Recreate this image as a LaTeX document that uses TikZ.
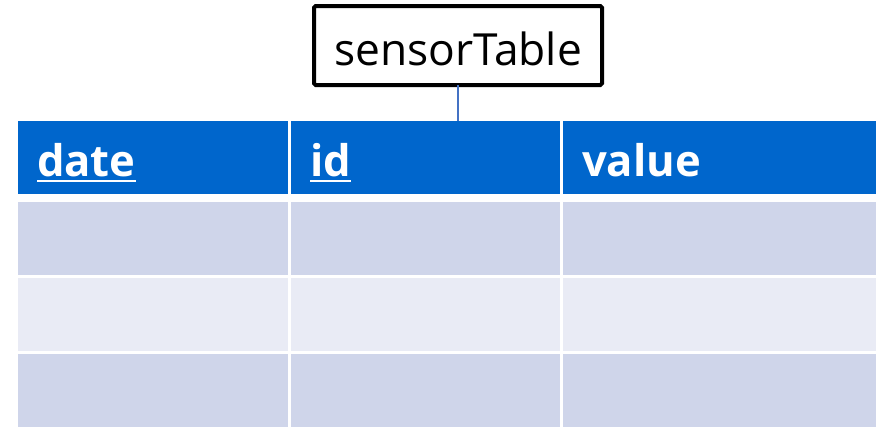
\documentclass[tikz,border=0pt]{standalone}
\usepackage{fontspec}
\setmainfont{Open Sans}
\usetikzlibrary{positioning}

\definecolor{headblue}{HTML}{0066CC}
\definecolor{rowdark}{HTML}{CFD5EA}
\definecolor{rowlight}{HTML}{E9EBF5}
\definecolor{linkblue}{HTML}{4472C4}

% key columns are underlined
\newcommand{\keyname}[1]{\setbox0\hbox{#1}\rlap{\rule[-0.15cm]{\wd0}{0.05cm}}\box0}

\begin{document}
\begin{tikzpicture}[node distance=0.075cm,
  every node/.style={outer sep=0pt, inner ysep=0pt, inner xsep=0.475cm},
  titlebox/.style={draw=black, line width=0.1cm, rounded corners=0.04cm, fill=white,
    minimum width=7.2cm, minimum height=1.975cm, inner xsep=0.1cm,
    font=\fontsize{31.5}{38}\selectfont, text height=1.05cm, text depth=0.075cm},
  head/.style={fill=headblue, text=white, font=\fontsize{31}{37}\selectfont\bfseries,
    minimum height=1.825cm, text height=1cm, text depth=0.075cm, align=left},
  dark/.style={fill=rowdark, minimum height=1.825cm},
  light/.style={fill=rowlight, minimum height=1.825cm},
  colA/.style={text width=5.8cm},
  colB/.style={text width=5.775cm},
  colC/.style={text width=6.875cm},
  link/.style={draw=linkblue, line width=0.03cm}]
\useasboundingbox (0,0) rectangle (21.9,-10.675);

\node (title) [titlebox] at (11.45,-1.1375) {sensorTable};

\node (h1) [head, colA, anchor=north west] at (0.45,-3.025) {\keyname{date}};
\node (h2) [head, colB, right=of h1] {\keyname{id}};
\node (h3) [head, colC, right=of h2] {value};

\node (a1) [dark, colA, below=0.2cm of h1] {};
\node (b1) [dark, colB, right=of a1] {};
\node (c1) [dark, colC, right=of b1] {};
\node (a2) [light, colA, below=of a1] {};
\node (b2) [light, colB, right=of a2] {};
\node (c2) [light, colC, right=of b2] {};
\node (a3) [dark, colA, below=of a2] {};
\node (b3) [dark, colB, right=of a3] {};
\node (c3) [dark, colC, right=of b3] {};

\coordinate (drop) at (title.south |- h2.north);
\draw[link] (title) -- (drop);
\end{tikzpicture}
\end{document}
